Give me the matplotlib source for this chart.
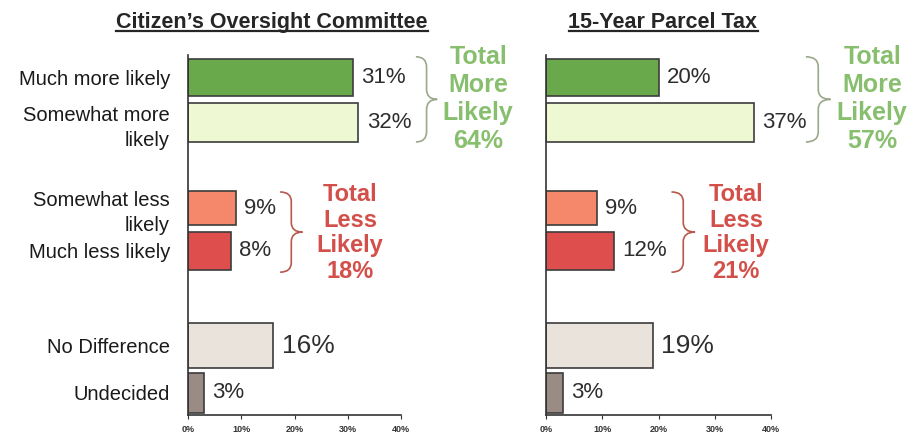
import numpy as np
import matplotlib
import matplotlib.pyplot as plt
from matplotlib.path import Path
from matplotlib.patches import PathPatch
from matplotlib.lines import Line2D

matplotlib.use('Agg')
plt.rcParams['font.family'] = ['Liberation Sans', 'DejaVu Sans']

categories = ['Much more likely', 'Somewhat more\nlikely', 'Somewhat less\nlikely',
              'Much less likely', 'No Difference', 'Undecided']
committee = [31, 32, 9, 8, 16, 3]
parcel = [20, 37, 9, 12, 19, 3]
titles = ['Citizen\u2019s Oversight Committee', '15-Year Parcel Tax']
more_totals = [64, 57]
less_totals = [18, 21]

bar_colors = ['#6aa84c', '#eef8d2', '#f5876a', '#dd4e4c', '#e9e3dc', '#9a8c84']
green_txt, red_txt = '#88bf6e', '#d34f4a'
green_brace, red_brace = '#9aa88c', '#b8584c'
ypos = [0, 1, 2.9, 3.85, 5.95, 7]  # gaps between the groups
heights = [0.83, 0.85, 0.75, 0.83, 1.0, 0.88]
lbl_size = [16, 16, 16, 16, 19, 16]


def brace(ax, xt, xp, y0, y1, color):
    # curly brace opening to the left, tip pointing right at the middle
    xb = (xt + xp) / 2
    ym = (y0 + y1) / 2
    q = 0.12 * (y1 - y0)
    verts = [(xt, y0), (xb, y0), (xb, y0 + q),
             (xb, ym - q), (xb, ym), (xp, ym),
             (xb, ym), (xb, ym + q),
             (xb, y1 - q), (xb, y1), (xt, y1)]
    codes = [Path.MOVETO, Path.CURVE3, Path.CURVE3,
             Path.LINETO, Path.CURVE3, Path.CURVE3,
             Path.CURVE3, Path.CURVE3,
             Path.LINETO, Path.CURVE3, Path.CURVE3]
    ax.add_patch(PathPatch(Path(verts, codes), fill=False, ec=color, lw=1.2, clip_on=False))


fig = plt.figure(figsize=(9.15, 4.33), dpi=100)
axes = [fig.add_axes([188 / 915, 18 / 433, 213 / 915, 360 / 433]),
        fig.add_axes([546 / 915, 18 / 433, 225 / 915, 360 / 433])]

# [x of brace tips, x of brace point, x of text] in % units per panel
more_pos = [(42.8, 46.8, 54.5), (46.2, 50.6, 58.0)]
less_pos = [(17.3, 21.5, 30.4), (22.3, 26.5, 33.8)]

for i, (ax, vals) in enumerate(zip(axes, [committee, parcel])):
    ax.barh(ypos, vals, height=heights, color=bar_colors, edgecolor='#3c3c3c', linewidth=1.2)
    for y, v, s in zip(ypos, vals, lbl_size):
        ax.annotate(f'{v}%', (v, y), xytext=(6, 0), textcoords='offset points',
                    va='center', ha='left', fontsize=s, color='#2e2e2e')
    ax.set_xlim(0, 40)
    ax.set_ylim(7.49, -0.5)
    ax.set_xticks([0, 10, 20, 30, 40], ['0%', '10%', '20%', '30%', '40%'])
    ax.tick_params(axis='x', labelsize=6.5, length=3, width=0.8, pad=4, colors='#333333')
    for t in ax.get_xticklabels():
        t.set_fontweight('bold')
    if i == 0:
        ax.set_yticks(ypos, categories, fontsize=14.5, color='#1a1a1a',
                      multialignment='right', linespacing=1.4)
        ax.tick_params(axis='y', length=0, pad=13)
    else:
        ax.set_yticks([])
    for sp in ['top', 'right']:
        ax.spines[sp].set_visible(False)
    for sp in ['left', 'bottom']:
        ax.spines[sp].set_color('#333333')
        ax.spines[sp].set_linewidth(1.2)

    xt, xp, xtx = more_pos[i]
    brace(ax, xt, xp, -0.46, 1.43, green_brace)
    ax.text(xtx, 0.48, f'Total\nMore\nLikely\n{more_totals[i]}%', ha='center', va='center',
            fontsize=18, fontweight='bold', color=green_txt, linespacing=1.2)
    xt, xp, xtx = less_pos[i]
    brace(ax, xt, xp, 2.54, 4.32, red_brace)
    ax.text(xtx, 3.45, f'Total\nLess\nLikely\n{less_totals[i]}%', ha='center', va='center',
            fontsize=17, fontweight='bold', color=red_txt, linespacing=1.15)

# underlined titles
title_x = [272 / 915, 663 / 915]
fig.canvas.draw()
renderer = fig.canvas.get_renderer()
for tx, title in zip(title_x, titles):
    t = fig.text(tx, 1 - 28 / 433, title, ha='center', va='baseline', fontsize=15.5,
                 fontweight='bold', color='#262626')
    bb = t.get_window_extent(renderer=renderer).transformed(fig.transFigure.inverted())
    uy = 1 - 31 / 433
    fig.add_artist(Line2D([bb.x0, bb.x1], [uy, uy], transform=fig.transFigure,
                          color='#262626', lw=1.6))

fig.savefig('out.png', dpi=100, facecolor='white')
